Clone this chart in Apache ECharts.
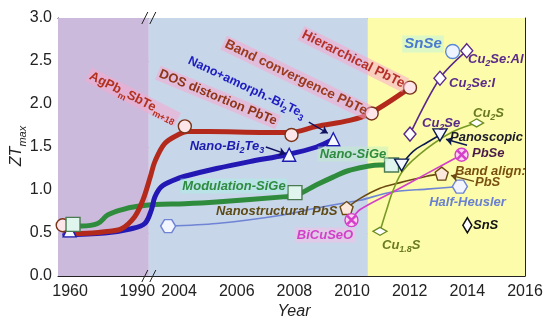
<!DOCTYPE html>
<html><head><meta charset="utf-8">
<script src="https://cdn.jsdelivr.net/npm/echarts@6/dist/echarts.min.js"></script>
<style>html,body{margin:0;padding:0;background:#fff}#c{width:550px;height:329px}</style>
</head><body><div id="c"></div>
<script>
// ---------- axis segments (broken year axis) ----------
const LEFT_START = 1960, LEFT_U0 = 2000.22, LEFT_SCALE = 0.0778; // compressed 1960s-1990s
function ux(y){ return y < 2000 ? LEFT_U0 + (y - LEFT_START) * LEFT_SCALE : y; }
const X_MIN = 1999.8, X_MAX = 2016;
const eraBreakYears = [1995.1, 2010.55];          // purple | blue | yellow
const eraColors = ['#ccbadc', '#c8d6ea', '#fcfcaa'];
const xTickYears = [1960,1965,1970,1975,1980,1985,1990,2004,2005,2006,2007,2008,2009,2010,2011,2012,2013,2014,2015,2016];
const xLabelYears = [1960,1990,2004,2006,2008,2010,2012,2014,2016];
const yTickValues = [0,0.5,1,1.5,2,2.5,3];

// ---------- data ----------
const pbteLineYears = [1958,1970,1975.4,1982.9,1988.8,1992.4,2003.0,2003.16,2003.5,2003.95,2004.3,2005,2007,2007.84,2008.77,2009.92,2010.62,2012.01];
const pbteLineZT    = [0.49,0.50,0.515,0.55,0.69,0.88,1.15,1.33,1.54,1.64,1.68,1.68,1.67,1.67,1.74,1.81,1.89,2.19];
const pbteMarkYears = [1956.7,2004.2,2007.9,2010.68,2012.01];
const pbteMarkZT    = [0.59,1.74,1.64,1.89,2.19];

const bi2te3LineYears = [1957.6,1975.4,1987.3,1993.3,2003.04,2003.16,2003.39,2003.85,2004.2,2005.3,2006.45,2007.73,2008.77,2009.35];
const bi2te3LineZT    = [0.48,0.50,0.55,0.61,0.77,0.92,1.04,1.12,1.16,1.25,1.33,1.41,1.50,1.59];
const bi2te3MarkYears = [1959.8,2007.82,2009.35];
const bi2te3MarkZT    = [0.53,1.41,1.59];

const sigeLineYears = [1961.3,1965,1972.3,1976.8,1982.9,1990.2,2003.16,2004.2,2005.3,2007.61,2008.07,2008.77,2009.34,2009.92,2010.97,2011.37];
const sigeLineZT    = [0.58,0.58,0.61,0.71,0.77,0.81,0.83,0.84,0.86,0.92,0.94,1.06,1.15,1.23,1.29,1.29];
const sigeMarkYears = [1961.3,2008.02,2011.37];
const sigeMarkZT    = [0.60,0.97,1.29];

const hhYears = [2003.62,2005.3,2007.61,2008.77,2009.92,2010.27,2011.43,2012.59,2013.74];
const hhZT    = [0.58,0.61,0.71,0.79,0.86,0.88,0.98,1.01,1.04];

const pbsYears = [2009.81,2010.27,2010.97,2011.6,2012.59,2013.11];
const pbsZT    = [0.79,0.90,1.02,1.08,1.16,1.19];

const bicuseoYears = [2009.98,2010.27,2011.43,2012.59,2013.80];
const bicuseoZT    = [0.65,0.77,0.98,1.19,1.41];

const panoYears = [2011.72,2012.12,2012.59,2013.05];
const panoZT    = [1.29,1.45,1.55,1.64];

const cu2sYears = [2010.97,2011.20,2011.43,2011.78,2012.59,2013.51,2014.32];
const cu2sZT    = [0.52,0.77,1.00,1.23,1.48,1.68,1.78];

const cu2seYears = [2012.01,2013.05,2013.98];
const cu2seZT    = [1.65,2.30,2.62];

const snseYears = [2013.49];  const snseZT = [2.61];
const snsYears  = [2014.00];  const snsZT  = [0.59];

// arrows [fromYear, fromZT, toYear, toZT]
const arrowNanoBi2Te3 = [2007.01,1.50,2007.70,1.42];
const arrowAmorph     = [2008.50,1.79,2009.16,1.66];
const arrowPanoscopic = [2013.99,1.52,2013.26,1.59];
const arrowBandAlign  = [2014.23,1.10,2013.43,1.17];

// ---------- helpers ----------
const FONT = "'Liberation Sans', Arial, sans-serif";
const pts = (ys, vs) => ys.map((y,i) => [ux(y), vs[i]]);
const ends = (ys, vs) => [[ux(ys[0]), vs[0]], [ux(ys[ys.length-1]), vs[vs.length-1]]];
function lineS(data, color, width, smooth){
  return {type:'line', data, smooth: smooth, showSymbol:false, symbol:'none', z:3,
    lineStyle:{color, width, cap:'round', join:'round'}, silent:true, animation:false};
}
function markS(data, symbol, size, fill, border, bw){
  return {type:'scatter', data, symbol, symbolSize:size, z:5, silent:true, animation:false,
    itemStyle:{color:fill, borderColor:border, borderWidth:bw||1.4, opacity:1}};
}
const HEX = 'path://M0,5 L2.6,0.5 L7.4,0.5 L10,5 L7.4,9.5 L2.6,9.5 Z';
const PENT = 'path://M5,0 L10,3.8 L8.1,9.6 L1.9,9.6 L0,3.8 Z';
const DTRI = 'path://M0,0 L10,0 L5,9 Z';
const XMARK = 'path://M1.5,0.7 L5,4.2 L8.5,0.7 L9.3,1.5 L5.8,5 L9.3,8.5 L8.5,9.3 L5,5.8 L1.5,9.3 L0.7,8.5 L4.2,5 L0.7,1.5 Z';

function arrowS(arrs, color){
  return {type:'lines', coordinateSystem:'cartesian2d', z:6, silent:true, animation:false,
    symbol:['none','arrow'], symbolSize:7,
    lineStyle:{color, width:1.4, opacity:1},
    data: arrs.map(a => ({coords:[[ux(a[0]),a[1]],[ux(a[2]),a[3]]]}))};
}

const ticksU = xTickYears.map(ux);
const labelsU = xLabelYears.map(ux);
function yearLabel(v){
  return v < 2003 ? String(Math.round(LEFT_START + (v - LEFT_U0)/LEFT_SCALE)) : String(Math.round(v));
}

const eraU = [X_MIN, ux(eraBreakYears[0]), ux(eraBreakYears[1]), X_MAX];
const bgSeries = {type:'line', data:[], z:-1, silent:true, animation:false,
  markArea:{silent:true, data: eraColors.map((c,i)=>[{xAxis:eraU[i], itemStyle:{color:c, opacity:1}},{xAxis:eraU[i+1]}])}};

// ---------- labels ----------
const PINK = 'rgba(247,170,205,0.55)';
function lbl(x, y, parts, color, o){
  o = o || {};
  const fs = o.size || 13;
  const fw = o.weight || 'bold';
  const fst = o.italic === false ? 'normal' : 'italic';
  const text = parts.map(p => (p[1] ? '{s|' : '{n|') + p[0] + '}').join('');
  return {type:'text', x, y, rotation: (o.rot||0)*Math.PI/180, z:20, silent:true,
    style:{text, align:o.align||'center', verticalAlign:'middle',
      backgroundColor:o.bg||'transparent', padding:o.bg?[0,2,0,2]:0,
      rich:{
        n:{fontSize:fs, fontWeight:fw, fontStyle:fst, fontFamily:FONT, fill:color, lineHeight:fs+2},
        s:{fontSize:Math.round(fs*0.68), fontWeight:fw, fontStyle:fst, fontFamily:FONT, fill:color, verticalAlign:'bottom', lineHeight:fs+2, padding:[0,0,-2,0]}
      }}};
}

const chart = echarts.init(document.getElementById('c'), null, {renderer:'canvas'});
const axisColor = '#222';
const option = {
  animation:false,
  grid:{left:58, right:25, top:18, bottom:53, show:false},
  xAxis:[
    {type:'value', min:X_MIN, max:X_MAX, position:'bottom',
      axisLine:{show:true, onZero:false, lineStyle:{color:axisColor, width:1}},
      axisTick:{show:true, inside:true, length:4, customValues:ticksU, lineStyle:{color:axisColor}},
      axisLabel:{show:true, customValues:labelsU, formatter:yearLabel, margin:8, fontSize:16, color:'#222', fontFamily:FONT},
      splitLine:{show:false}},
    {type:'value', min:X_MIN, max:X_MAX, position:'top',
      axisLine:{show:true, onZero:false, lineStyle:{color:axisColor, width:1}},
      axisTick:{show:true, inside:true, length:4, customValues:ticksU, lineStyle:{color:axisColor}},
      axisLabel:{show:false}, splitLine:{show:false}}
  ],
  yAxis:[
    {type:'value', min:0, max:3, interval:0.5, position:'left',
      axisLine:{show:true, onZero:false, lineStyle:{color:axisColor, width:1}},
      axisTick:{show:true, inside:true, length:5, lineStyle:{color:axisColor}},
      minorTick:{show:true, splitNumber:2, length:3, lineStyle:{color:axisColor}},
      axisLabel:{formatter:v=>v.toFixed(1), margin:6, fontSize:16, color:'#222', fontFamily:FONT},
      splitLine:{show:true, lineStyle:{color:'#8c8c8c', type:[6,3], width:0.8}}},
    {type:'value', min:0, max:3, interval:0.5, position:'right',
      axisLine:{show:true, onZero:false, lineStyle:{color:axisColor, width:1}},
      axisTick:{show:true, inside:true, length:5, lineStyle:{color:axisColor}},
      minorTick:{show:true, splitNumber:2, length:3, lineStyle:{color:axisColor}},
      axisLabel:{show:false}, splitLine:{show:false}}
  ],
  series:[
    bgSeries,
    lineS(pts(hhYears, hhZT), '#6f84d4', 1.6, 0.3),
    lineS(pts(pbsYears, pbsZT), '#6b4a12', 1.6, 0.3),
    lineS(pts(bicuseoYears, bicuseoZT), '#d43ec8', 1.6, 0.3),
    lineS(pts(cu2sYears, cu2sZT), '#7a9a26', 1.6, 0.35),
    lineS(pts(panoYears, panoZT), '#0c1a4e', 1.6, 0.4),
    lineS(pts(cu2seYears, cu2seZT), '#5a2a8a', 1.6, 0.3),
    lineS(pts(sigeLineYears, sigeLineZT), '#2f8c3c', 5, 0.35),
    lineS(pts(bi2te3LineYears, bi2te3LineZT), '#2418b4', 5, 0.35),
    lineS(pts(pbteLineYears, pbteLineZT), '#b32a1c', 5, 0.35),
    markS(pts(pbteMarkYears, pbteMarkZT), 'circle', 13, '#fde6ea', '#7a3418'),
    markS(pts(bi2te3MarkYears, bi2te3MarkZT), 'triangle', 13, '#f6f8ff', '#1c1cb0'),
    markS(pts(sigeMarkYears, sigeMarkZT), 'rect', 14, '#dff5ee', '#4a7a50'),
    markS(ends(hhYears, hhZT), HEX, [15,13], '#f4f6ff', '#6f84d4'),
    markS(ends(pbsYears, pbsZT), PENT, 13, '#fde8dc', '#6b4a12'),
    markS(ends(bicuseoYears, bicuseoZT), 'circle', 13, '#fbd2f0', '#d43ec8'),
    markS(ends(bicuseoYears, bicuseoZT), XMARK, 8, '#d43ec8', '#d43ec8', 0),
    markS(ends(panoYears, panoZT), DTRI, [14,12], '#f6f8ff', '#0c1a4e'),
    markS(ends(cu2sYears, cu2sZT), 'diamond', [14,8], '#ffffff', '#6a8a20'),
    markS(pts(cu2seYears, cu2seZT), 'diamond', [12,14], '#ffffff', '#5a2a8a'),
    markS(pts(snseYears, snseZT), 'circle', 14, '#eef4ff', '#5a88d8'),
    markS(pts(snsYears, snsZT), 'diamond', [9,15], '#ffffff', '#111111', 1.6),
    arrowS([arrowNanoBi2Te3, arrowAmorph], '#101060'),
    arrowS([arrowPanoscopic], '#0c1a4e'),
    arrowS([arrowBandAlign], '#6b4a12')
  ]
};
chart.setOption(option);

// break marks and annotations
const bx = chart.convertToPixel({xAxisIndex:0}, ux(eraBreakYears[0]));
const topY = chart.convertToPixel({yAxisIndex:0}, 3), botY = chart.convertToPixel({yAxisIndex:0}, 0);
function slash(cx, cy){ return {type:'line', z:25, silent:true, shape:{x1:cx-3, y1:cy+6, x2:cx+3, y2:cy-6}, style:{stroke:'#222', lineWidth:1}}; }
const graphics = [
  slash(bx-4, topY), slash(bx+4, topY), slash(bx-4, botY), slash(bx+4, botY),
  lbl(133, 97, [['AgPb'],['m',1],['SbTe'],['m+18',1]], '#b2301e', {rot:-27, italic:false, bg:PINK}),
  lbl(218, 97.5, [['DOS distortion PbTe']], '#8e3418', {rot:-22.5, italic:false, bg:PINK}),
  lbl(246.7, 87.5, [['Nano+amorph.-Bi'],['2',1],['Te'],['3',1]], '#1c1cc0', {rot:-25.3, italic:false, size:12.5}),
  lbl(296, 77.5, [['Band convergence PbTe']], '#9a3a1e', {rot:-25.8, italic:false, size:13.5, bg:PINK}),
  lbl(353.3, 59.2, [['Hierarchical PbTe']], '#b5302a', {rot:-26.6, italic:false, size:13.5, bg:PINK}),
  lbl(227, 146, [['Nano-Bi'],['2',1],['Te'],['3',1]], '#1c1cb0'),
  lbl(234, 186, [['Modulation-SiGe']], '#2e8b40', {bg:'rgba(170,240,225,0.5)'}),
  lbl(353, 154, [['Nano-SiGe']], '#2e8b40', {bg:'rgba(190,240,200,0.45)'}),
  lbl(276.7, 211, [['Nanostructural PbS']], '#5e4a14'),
  lbl(325, 235, [['BiCuSeO']], '#d040c8', {bg:'rgba(250,190,230,0.5)'}),
  lbl(423, 44, [['SnSe']], '#4a7ad0', {size:15, bg:'rgba(200,245,215,0.6)'}),
  lbl(468, 59, [['Cu'],['2',1],['Se:Al']], '#5a2a8a', {align:'left'}),
  lbl(449, 83, [['Cu'],['2',1],['Se:I']], '#5a2a8a', {align:'left'}),
  lbl(422, 123, [['Cu'],['2',1],['Se']], '#5a2a8a', {align:'left'}),
  lbl(473, 113, [['Cu'],['2',1],['S']], '#6a7a20', {align:'left'}),
  lbl(450, 137, [['Panoscopic']], '#1a1a2a', {align:'left'}),
  lbl(472, 153, [['PbSe']], '#4a1a4a', {align:'left'}),
  lbl(455, 171, [['Band align:']], '#7a5010', {align:'left'}),
  lbl(475, 182, [['PbS']], '#7a5010', {align:'left'}),
  lbl(467.5, 202.5, [['Half-Heusler']], '#6a80d0'),
  lbl(382, 245, [['Cu'],['1.8',1],['S']], '#6a7a20', {align:'left'}),
  lbl(473, 225, [['SnS']], '#111111', {align:'left'}),
  lbl(294, 312, [['Year']], '#222222', {size:16, weight:'normal'}),
  lbl(17, 146, [['ZT'],['max',1]], '#222222', {size:16, weight:'normal', rot:90})
];
chart.setOption({graphic: graphics});
</script>
</body></html>
